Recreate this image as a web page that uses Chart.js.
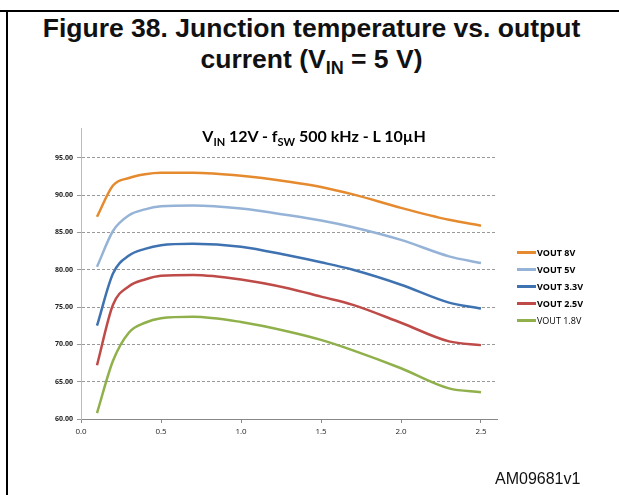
<!DOCTYPE html>
<html>
<head>
<meta charset="utf-8">
<script src="https://cdn.jsdelivr.net/npm/chart.js@4"></script>
<style>
  body { margin: 0; background: #fff; }
  #wrap { position: relative; width: 619px; height: 495px; overflow: hidden; }
  #frameTop { position: absolute; left: 0; top: 10px; width: 619px; height: 2px; background: #000; }
  #frameLeft { position: absolute; left: 6px; top: 10px; width: 2px; height: 485px; background: #000; }
  #title { position: absolute; left: 2px; width: 619px; top: 13px; text-align: center;
    font: bold 26.5px "Liberation Sans", Arial, sans-serif; line-height: 31px; color: #111; }
  #subtitle { position: absolute; left: 90px; width: 448px; top: 126px; text-align: center;
    font: bold 16px Lato, "Open Sans", sans-serif; color: #000; }
  #legend { position: absolute; left: 517px; top: 244px; font: bold 9px "Open Sans", Lato, sans-serif; }
  #legend div { height: 17px; display: flex; align-items: center; }
  #legend span.sw { display: inline-block; width: 19px; height: 3px; margin-right: 1px; }
  #footer { position: absolute; left: 495px; top: 470px; font: 16px "Liberation Sans", Arial, sans-serif; color: #111; }
  canvas { position: absolute; left: 0; top: 0; }
</style>
</head>
<body>
<div id="wrap">
  <div id="frameTop"></div>
  <div id="frameLeft"></div>
  <div id="title">Figure 38. Junction temperature vs. output<br>current (V<sub style="font-size:18px">IN</sub> = 5 V)</div>
  <canvas id="chart" width="619" height="495"></canvas>
  <div id="subtitle">V<sub style="font-size:11px">IN</sub> 12V - f<sub style="font-size:11px">SW</sub> 500 kHz - L 10µH</div>
  <div id="legend"></div>
  <div id="footer">AM09681v1</div>
</div>
<script>
const current = [0.1, 0.2, 0.3, 0.4, 0.5, 0.7, 1.0, 1.3, 1.5, 1.7, 2.0, 2.3, 2.5];
const vout8 = [87.1, 91.3, 92.3, 92.8, 93.0, 93.0, 92.6, 91.8, 91.1, 90.1, 88.3, 86.7, 85.9];
const vout5 = [80.4, 85.2, 87.3, 88.1, 88.5, 88.6, 88.2, 87.3, 86.6, 85.7, 84.0, 81.8, 80.9];
const vout33 = [72.5, 79.5, 81.9, 82.8, 83.3, 83.5, 83.1, 81.9, 81.0, 80.0, 78.0, 75.6, 74.8];
const vout25 = [67.2, 75.3, 77.8, 78.7, 79.2, 79.3, 78.7, 77.5, 76.4, 75.3, 72.9, 70.4, 69.9];
const vout18 = [60.8, 67.8, 71.6, 72.9, 73.5, 73.7, 73.0, 71.7, 70.6, 69.2, 66.8, 64.1, 63.6];
const seriesNames = ['VOUT 8V', 'VOUT 5V', 'VOUT 3.3V', 'VOUT 2.5V', 'VOUT 1.8V'];
const seriesColors = ['#E58A2E', '#95B3D7', '#3E72B0', '#BE4B48', '#8FB04A'];
const yTicks = [60, 65, 70, 75, 80, 85, 90, 95];
const xTicks = [0, 0.5, 1.0, 1.5, 2.0, 2.5];

const allSeries = [vout8, vout5, vout33, vout25, vout18];

// legend
const legend = document.getElementById('legend');
seriesNames.forEach((name, i) => {
    const row = document.createElement('div');
    row.innerHTML = `<span class="sw" style="background:${seriesColors[i]}"></span>${name}`;
    if (i === 4) row.style.fontWeight = 'normal';
    legend.appendChild(row);
});

new Chart(document.getElementById('chart'), {
    type: 'line',
    data: {
        datasets: allSeries.map((vals, i) => ({
            label: seriesNames[i],
            data: vals.map((v, j) => ({ x: current[j], y: v })),
            borderColor: seriesColors[i],
            borderWidth: 2.5,
            pointRadius: 0,
            cubicInterpolationMode: 'monotone',
            fill: false
        }))
    },
    options: {
        responsive: false,
        animation: false,
        layout: { padding: { left: 0, right: 122, top: 128, bottom: 56 } },
        plugins: { legend: { display: false }, tooltip: { enabled: false } },
        scales: {
            x: {
                type: 'linear',
                min: 0,
                max: 2.6,
                afterBuildTicks: s => { s.ticks = xTicks.map(v => ({ value: v })); },
                afterFit: s => { s.height = 20; },
                grid: { drawOnChartArea: false, tickLength: 4, color: '#888' },
                border: { color: '#888', width: 1 },
                ticks: {
                    callback: v => v.toFixed(1),
                    font: { family: 'Open Sans', size: 8 },
                    color: '#222',
                    padding: 4,
                    maxRotation: 0
                }
            },
            y: {
                min: 60,
                max: 99,
                afterBuildTicks: s => { s.ticks = yTicks.map(v => ({ value: v })); },
                afterFit: s => { s.width = 81; },
                grid: { color: '#999', tickLength: 4 },
                border: { color: '#bbb', dash: [3, 2] },
                ticks: {
                    callback: v => v.toFixed(2),
                    font: { family: 'Open Sans', size: 7, weight: 'bold' },
                    color: '#222',
                    padding: 4
                }
            }
        }
    }
});
</script>
</body>
</html>
